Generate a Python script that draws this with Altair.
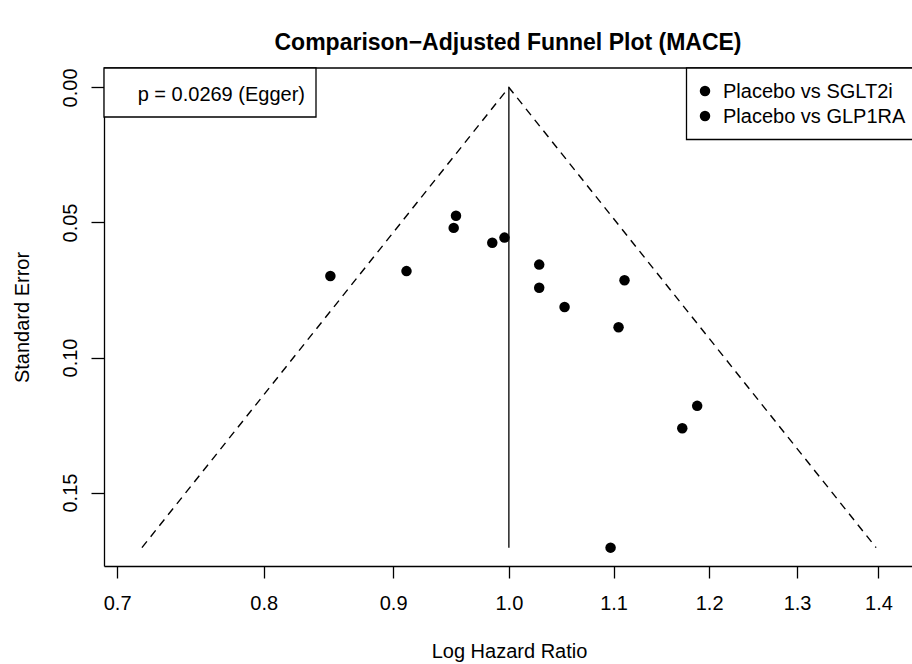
import altair as alt
import pandas as pd

# ---- data ----
hazard_ratio = [0.850, 0.911, 0.953, 0.951, 0.985, 0.996, 1.028, 1.028,
                1.052, 1.111, 1.105, 1.187, 1.171, 1.097]
std_error = [0.0698, 0.0680, 0.0475, 0.0520, 0.0575, 0.0556, 0.0656, 0.0742,
             0.0813, 0.0714, 0.0888, 0.1179, 0.1262, 0.1704]

funnel_hr = [0.716, 1.0, 1.397]
funnel_se = [0.1704, 0.0, 0.1704]
ref_hr = [1.0]
ref_se_top = [0.0]
ref_se_bottom = [0.1704]

x_ticks = [0.7, 0.8, 0.9, 1.0, 1.1, 1.2, 1.3, 1.4]
y_ticks = [0.0, 0.05, 0.10, 0.15]
legend_labels = ["Placebo vs SGLT2i", "Placebo vs GLP1RA"]
egger_p = 0.0269

title = "Comparison\u2212Adjusted Funnel Plot (MACE)"
FONT = "Liberation Sans"
FS = 20
W, H = 808, 498

pts = pd.DataFrame({"hr": hazard_ratio, "se": std_error})
funnel = pd.DataFrame({"hr": funnel_hr, "se": funnel_se, "o": [0, 1, 2]})
ref = pd.DataFrame({"hr": ref_hr, "se": ref_se_top, "se2": ref_se_bottom})
one = pd.DataFrame({"k": [0]})

xscale = alt.Scale(type="log", domain=[0.6917, 1.4434], nice=False, zero=False)
yscale = alt.Scale(domain=[-0.0072, 0.1772], reverse=True, nice=False, zero=False)

xaxis = alt.Axis(values=x_ticks, format=".1f", title="Log Hazard Ratio",
                 labelFont=FONT, labelFontSize=FS, titleFont=FONT, titleFontSize=FS,
                 titleFontWeight="normal", tickSize=12, labelPadding=15,
                 titleX=W / 2 + 1, titleY=85, titleBaseline="middle",
                 labelFlush=False, labelOverlap=False)
yaxis = alt.Axis(values=y_ticks, format=".2f", title="Standard Error",
                 labelFont=FONT, labelFontSize=FS, titleFont=FONT, titleFontSize=FS,
                 titleFontWeight="normal", tickSize=13, labelPadding=15,
                 labelAngle=-90, labelAlign="center", labelBaseline="alphabetic",
                 titleAngle=-90, titleX=-82, titleY=H / 2, titleAlign="center",
                 titleBaseline="middle", labelFlush=False, labelOverlap=False)

funnel_line = alt.Chart(funnel).mark_line(
    color="black", strokeWidth=1.4, strokeDash=[8, 6]
).encode(
    x=alt.X("hr:Q", scale=xscale, axis=xaxis),
    y=alt.Y("se:Q", scale=yscale, axis=yaxis),
    order="o:Q",
)

ref_line = alt.Chart(ref).mark_rule(color="black", strokeWidth=1.3).encode(
    x="hr:Q", y="se:Q", y2="se2:Q"
)

points = alt.Chart(pts).mark_circle(color="black", opacity=1, size=110).encode(
    x="hr:Q", y="se:Q"
)

top_border = alt.Chart(one).mark_rule(color="black", strokeWidth=1.3).encode(
    x=alt.value(0), x2=alt.value(W), y=alt.value(0)
)

egger_box = alt.Chart(one).mark_rect(fill="white", stroke="black", strokeWidth=1.3).encode(
    x=alt.value(0), x2=alt.value(212), y=alt.value(0), y2=alt.value(49)
)
egger_text = alt.Chart(one).mark_text(
    text=f"p = {egger_p:.4f} (Egger)", font=FONT, fontSize=FS, align="right",
    baseline="middle", color="black"
).encode(x=alt.value(201), y=alt.value(27))

legend_box = alt.Chart(one).mark_rect(fill="white", stroke="black", strokeWidth=1.3).encode(
    x=alt.value(582.5), x2=alt.value(840), y=alt.value(0), y2=alt.value(71.5)
)
legend_layers = []
for i, lab in enumerate(legend_labels):
    yy = 23 + 25 * i
    legend_layers.append(
        alt.Chart(one).mark_circle(color="black", opacity=1, size=110).encode(
            x=alt.value(601), y=alt.value(yy)
        )
    )
    legend_layers.append(
        alt.Chart(one).mark_text(text=lab, font=FONT, fontSize=FS, align="left",
                                 baseline="middle", color="black").encode(
            x=alt.value(619), y=alt.value(yy + 1)
        )
    )

chart = alt.layer(
    funnel_line, ref_line, points, top_border, egger_box, egger_text, legend_box,
    *legend_layers
).properties(
    width=W, height=H,
    title=alt.TitleParams(title, font=FONT, fontSize=23, fontWeight="bold",
                          anchor="middle", offset=24, dy=30, baseline="alphabetic"),
    autosize=alt.AutoSizeParams(type="none"),
    padding={"left": 104, "top": 68, "right": 0, "bottom": 98},
).configure_view(stroke=None).configure_axis(
    grid=False, domainColor="black", domainWidth=1.3, tickColor="black",
    tickWidth=1.3, labelColor="black", titleColor="black"
)

chart.save("out.html", embed_options={"renderer": "svg", "actions": False})
